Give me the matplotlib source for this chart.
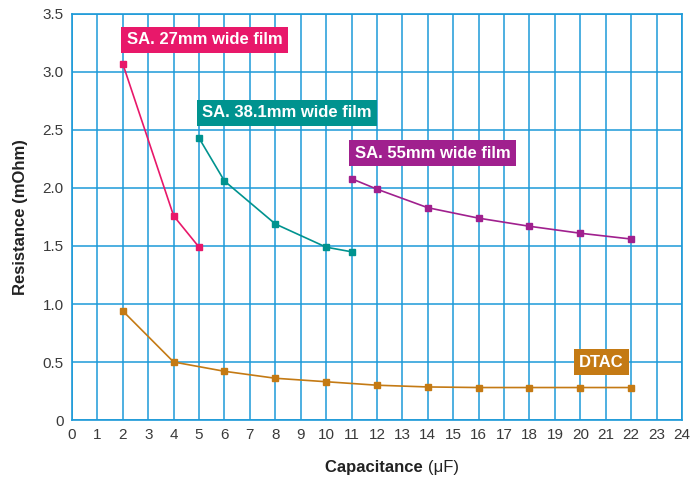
import matplotlib
matplotlib.use("Agg")
import matplotlib.pyplot as plt

plt.rcParams['font.family'] = ['Liberation Sans', 'DejaVu Sans']

# データ
x_27 = [2, 4, 5]
r_27 = [3.07, 1.76, 1.49]
x_38 = [5, 6, 8, 10, 11]
r_38 = [2.43, 2.06, 1.69, 1.49, 1.45]
x_55 = [11, 12, 14, 16, 18, 20, 22]
r_55 = [2.08, 1.99, 1.83, 1.74, 1.67, 1.61, 1.56]
x_dtac = [2, 4, 6, 8, 10, 12, 14, 16, 18, 20, 22]
r_dtac = [0.94, 0.50, 0.42, 0.36, 0.33, 0.30, 0.285, 0.28, 0.28, 0.28, 0.28]

x_ticks = list(range(0, 25))
y_ticks = [0, 0.5, 1.0, 1.5, 2.0, 2.5, 3.0, 3.5]
y_ticklabels = ["0", "0.5", "1.0", "1.5", "2.0", "2.5", "3.0", "3.5"]

grid_c = "#1d9ad8"
series = [
    (x_27, r_27, "#e8186a", "SA. 27mm wide film", 2.15, 3.28),
    (x_38, r_38, "#00938f", "SA. 38.1mm wide film", 5.13, 2.65),
    (x_55, r_55, "#a0208e", "SA. 55mm wide film", 11.13, 2.30),
    (x_dtac, r_dtac, "#c47a14", "DTAC", 19.95, 0.50),
]

fig = plt.figure(figsize=(6.92, 4.82), dpi=100)
ax = fig.add_axes([0.104, 0.1286, 0.8815, 0.8424])

for xs, ys, c, lab, lx, ly in series:
    ax.plot(xs, ys, color=c, lw=1.2, marker="s", ms=5, zorder=3)
    ax.text(lx, ly, lab, color="white", fontsize=12, fontweight="bold",
            ha="left", va="center", zorder=4,
            bbox=dict(boxstyle="square,pad=0.33", fc=c, ec="none"))

ax.set_xlim(0, 24)
ax.set_ylim(0, 3.5)
ax.set_xticks(x_ticks)
ax.set_yticks(y_ticks)
ax.set_yticklabels(y_ticklabels)
ax.tick_params(length=0, labelsize=11, labelcolor="#3a3a3a", pad=6)
ax.grid(True, color=grid_c, lw=1.1)
ax.set_axisbelow(True)
for s in ax.spines.values():
    s.set_color(grid_c)
    s.set_linewidth(1.2)

fig.text(0.03, 0.55, "Resistance (mOhm)", rotation=90, fontsize=12,
         fontweight="bold", color="#222222", ha="center", va="center")

# x軸ラベル（太字＋通常）
fig.text(0.618, 0.020, "Capacitance ", fontsize=12, fontweight="bold",
         color="#222222", ha="right", va="baseline")
fig.text(0.618, 0.020, "(μF)", fontsize=12, color="#222222",
         ha="left", va="baseline")

fig.savefig("out.png", dpi=100)
